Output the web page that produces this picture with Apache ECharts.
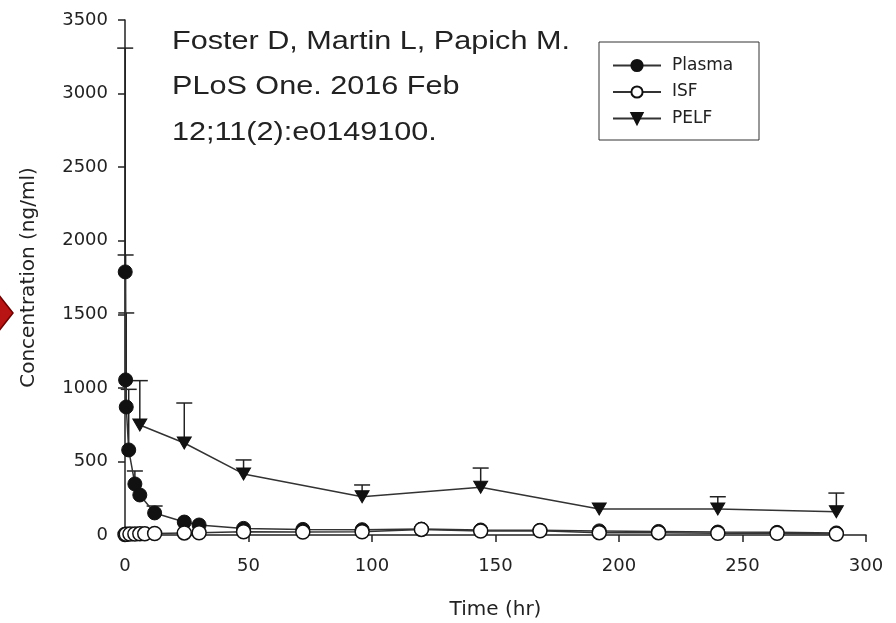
<!DOCTYPE html>
<html>
<head>
<meta charset="utf-8">
<script src="https://cdn.jsdelivr.net/npm/echarts@6/dist/echarts.min.js"></script>
<style>
  html, body { margin: 0; padding: 0; background: #fff; }
  #main { width: 896px; height: 623px; }
</style>
</head>
<body>
<div id="main"></div>
<script>
// Plasma (filled circles)
var plasmaTime  = [0.083, 0.25, 0.5, 1.5, 4, 6, 12, 24, 30, 48, 72, 96, 120, 144, 168, 192, 216, 240, 264, 288];
var plasmaConc  = [1788, 1054, 870, 578, 347, 272, 150, 88, 68, 45, 38, 36, 40, 34, 32, 28, 24, 20, 18, 14];
var plasmaUpper = [3309, 1903, 1509, 990, 435, null, 197, null, null, null, null, null, null, null, null, null, null, null, null, null];

// ISF (open circles)
var isfTime = [0, 0.5, 2, 4, 6, 8, 12, 24, 30, 48, 72, 96, 120, 144, 168, 192, 216, 240, 264, 288];
var isfConc = [3, 5, 6, 7, 8, 8, 10, 14, 15, 22, 20, 22, 38, 27, 29, 16, 16, 12, 12, 7];

// PELF (down triangles)
var pelfTime  = [6, 24, 48, 96, 144, 192, 240, 288];
var pelfConc  = [748, 625, 415, 260, 324, 177, 177, 158];
var pelfUpper = [1049, 897, 510, 340, 455, null, 260, 285];

var xTicks = [0, 50, 100, 150, 200, 250, 300];
var yTicks = [0, 500, 1000, 1500, 2000, 2500, 3000, 3500];

var citeLines = ['Foster D, Martin L, Papich M.', 'PLoS One. 2016 Feb', '12;11(2):e0149100.'];

function pairs(t, v) {
	var out = [];
	for (var i = 0; i < t.length; i++) out.push([t[i], v[i]]);
	return out;
}
function errData(t, v, up) {
	var out = [];
	for (var i = 0; i < t.length; i++) {
		if (up[i] != null) out.push([t[i], v[i], up[i]]);
	}
	return out;
}

function renderErr(params, api) {
	var p0 = api.coord([api.value(0), api.value(1)]);
	var p1 = api.coord([api.value(0), api.value(2)]);
	var half = 8;
	var st = { stroke: '#222', lineWidth: 1.5 };
	return {
		type: 'group',
		children: [
			{ type: 'line', shape: { x1: p0[0], y1: p0[1], x2: p1[0], y2: p1[1] }, style: st },
			{ type: 'line', shape: { x1: p1[0] - half, y1: p1[1], x2: p1[0] + half, y2: p1[1] }, style: st }
		]
	};
}

var chart = echarts.init(document.getElementById('main'));

var axisFont = { fontFamily: 'DejaVu Sans', fontSize: 18, color: '#222', formatter: function (v) { return String(v); } };

var option = {
	backgroundColor: '#fff',
	animation: false,
	grid: { left: 125, right: 30, top: 20, bottom: 88, containLabel: false, outerBoundsMode: 'none' },
	xAxis: {
		type: 'value',
		min: xTicks[0],
		max: xTicks[xTicks.length - 1],
		interval: 50,
		name: 'Time (hr)',
		nameLocation: 'middle',
		nameGap: 65,
		nameTextStyle: { fontFamily: 'DejaVu Sans', fontSize: 20, color: '#222' },
		axisLine: { lineStyle: { color: '#222', width: 1.5 } },
		axisTick: { length: 7, lineStyle: { color: '#222', width: 1.5 } },
		axisLabel: Object.assign({ margin: 22 }, axisFont),
		splitLine: { show: false }
	},
	yAxis: {
		type: 'value',
		min: yTicks[0],
		max: yTicks[yTicks.length - 1],
		interval: 500,
		name: 'Concentration (ng/ml)',
		nameLocation: 'middle',
		nameGap: 86,
		nameTextStyle: { fontFamily: 'DejaVu Sans', fontSize: 20, color: '#222' },
		axisLine: { show: true, lineStyle: { color: '#222', width: 1.5 } },
		axisTick: { show: true, length: 7, lineStyle: { color: '#222', width: 1.5 } },
		axisLabel: Object.assign({ margin: 17 }, axisFont),
		splitLine: { show: false }
	},
	legend: {
		orient: 'vertical',
		left: 612,
		top: 57,
		itemWidth: 48,
		itemHeight: 14,
		itemGap: 9.5,
		padding: 0,
		data: ['Plasma', 'ISF', 'PELF'],
		textStyle: { fontFamily: 'DejaVu Sans', fontSize: 17, color: '#222', padding: [0, 0, 0, 6] }
	},
	graphic: [
		{
			type: 'rect',
			shape: { x: 599, y: 42, width: 160, height: 98 },
			style: { fill: 'none', stroke: '#333', lineWidth: 1 }
		},
		{
			type: 'text',
			x: 172,
			y: 19,
			scaleX: 1.2,
			style: {
				text: citeLines.join('\n'),
				font: '25.5px "Liberation Sans"',
				lineHeight: 45.5,
				fill: '#222',
				textVerticalAlign: 'top'
			}
		},
		{
			type: 'polygon',
			shape: { points: [[-2, 294], [13, 313], [-2, 332]] },
			style: { fill: '#b81414', stroke: '#6e0000', lineWidth: 1.5 }
		}
	],
	series: [
		{
			name: 'PELF',
			type: 'line',
			data: pairs(pelfTime, pelfConc),
			symbol: 'triangle',
			symbolRotate: 180,
			symbolSize: [14, 12],
			lineStyle: { color: '#333', width: 1.5 },
			itemStyle: { color: '#111', borderColor: '#111', borderWidth: 1 },
			z: 3
		},
		{
			name: 'Plasma',
			type: 'line',
			data: pairs(plasmaTime, plasmaConc),
			symbol: 'circle',
			symbolSize: 14,
			lineStyle: { color: '#333', width: 1.5 },
			itemStyle: { color: '#111', borderColor: '#111', borderWidth: 1 },
			z: 3
		},
		{
			name: 'ISF',
			type: 'line',
			data: pairs(isfTime, isfConc),
			symbol: 'circle',
			symbolSize: 14,
			lineStyle: { color: '#333', width: 1.5 },
			itemStyle: { color: '#fff', borderColor: '#111', borderWidth: 1.5 },
			z: 4
		},
		{
			type: 'custom',
			renderItem: renderErr,
			data: errData(plasmaTime, plasmaConc, plasmaUpper),
			encode: { x: 0, y: [1, 2] },
			silent: true,
			z: 2
		},
		{
			type: 'custom',
			renderItem: renderErr,
			data: errData(pelfTime, pelfConc, pelfUpper),
			encode: { x: 0, y: [1, 2] },
			silent: true,
			z: 2
		}
	]
};

chart.setOption(option);
</script>
</body>
</html>
